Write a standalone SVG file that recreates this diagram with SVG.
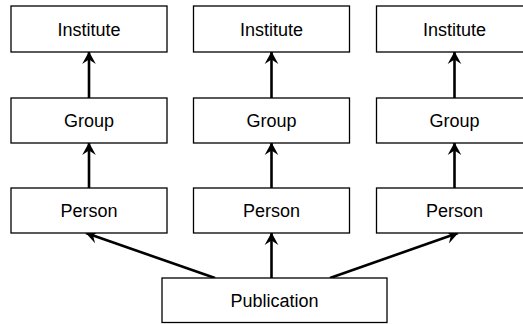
<svg xmlns="http://www.w3.org/2000/svg" width="523" height="324" viewBox="0 0 523 324">
<style>
.box{fill:#fff;stroke:#000;stroke-width:1.3}
.lbl{font-family:"Liberation Sans",Arial,sans-serif;font-size:18px;fill:#000;text-anchor:middle}
.edge{stroke:#000;stroke-width:2.6;fill:none;marker-end:url(#arr)}
</style>
<defs>
<marker id="arr" markerUnits="userSpaceOnUse" markerWidth="16" markerHeight="16" refX="14" refY="8" orient="auto" viewBox="0 0 16 16">
<path d="M14.5,8 L2,1.2 L6.5,8 L2,14.8 Z" fill="#000"/>
</marker>
</defs>
<rect width="523" height="324" fill="#fff"/>
<g id="connectors">
<line class="edge" x1="89" y1="98" x2="89" y2="52"/>
<line class="edge" x1="89" y1="188" x2="89" y2="143"/>
<line class="edge" x1="271.5" y1="98" x2="271.5" y2="52"/>
<line class="edge" x1="271.5" y1="188" x2="271.5" y2="143"/>
<line class="edge" x1="454.5" y1="98" x2="454.5" y2="52"/>
<line class="edge" x1="454.5" y1="188" x2="454.5" y2="143"/>
<line class="edge" x1="271.5" y1="278" x2="271.5" y2="233"/>
<line class="edge" x1="215" y1="278" x2="86" y2="233"/>
<line class="edge" x1="330" y1="278" x2="458" y2="233"/>
</g>
<g id="institute1"><rect class="box" x="11" y="6" width="156" height="46"/><text class="lbl" x="89" y="35.5">Institute</text></g>
<g id="institute2"><rect class="box" x="193.5" y="6" width="156" height="46"/><text class="lbl" x="271.5" y="35.5">Institute</text></g>
<g id="institute3"><rect class="box" x="376.5" y="6" width="156" height="46"/><text class="lbl" x="454.5" y="35.5">Institute</text></g>
<g id="group1"><rect class="box" x="11" y="98" width="156" height="45"/><text class="lbl" x="89" y="127">Group</text></g>
<g id="group2"><rect class="box" x="193.5" y="98" width="156" height="45"/><text class="lbl" x="271.5" y="127">Group</text></g>
<g id="group3"><rect class="box" x="376.5" y="98" width="156" height="45"/><text class="lbl" x="454.5" y="127">Group</text></g>
<g id="person1"><rect class="box" x="11" y="188" width="156" height="45"/><text class="lbl" x="89" y="217">Person</text></g>
<g id="person2"><rect class="box" x="193.5" y="188" width="156" height="45"/><text class="lbl" x="271.5" y="217">Person</text></g>
<g id="person3"><rect class="box" x="376.5" y="188" width="156" height="45"/><text class="lbl" x="454.5" y="217">Person</text></g>
<g id="publication"><rect class="box" x="162" y="278" width="225" height="44.5"/><text class="lbl" x="274.5" y="306.5">Publication</text></g>
</svg>
